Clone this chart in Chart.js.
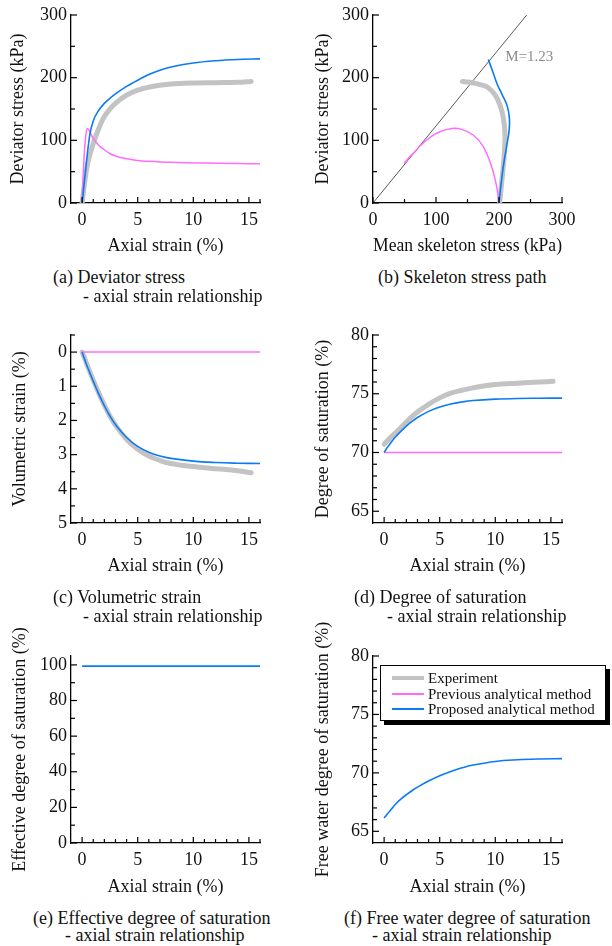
<!DOCTYPE html>
<html>
<head>
<meta charset="utf-8">
<script src="https://cdn.jsdelivr.net/npm/chart.js@4.4.1/dist/chart.umd.min.js"></script>
<style>
  body { margin: 0; background: #fff; }
  #page { position: relative; width: 612px; height: 946px; overflow: hidden; font-family: "Liberation Serif", "Times New Roman", serif; color: #111; }
  canvas { position: absolute; }
  .cap { position: absolute; font-size: 18px; line-height: 20px; white-space: nowrap; }
  #legend { position: absolute; left: 380px; top: 665px; width: 224px; height: 54px; border: 1px solid #000; box-shadow: 4px 4px 0 #000; background: #fff; font-size: 15px; }
  #legend .row { position: absolute; left: 0; height: 16px; line-height: 16px; white-space: nowrap; }
  #legend .swatch { position: absolute; left: 11px; width: 32px; }
  #legend .txt { position: absolute; left: 47px; top: 0; }
</style>
</head>
<body>
<div id="page">
  <canvas id="pa" width="306" height="262" style="left:0;top:0"></canvas>
  <canvas id="pb" width="306" height="262" style="left:306px;top:0"></canvas>
  <canvas id="pc" width="306" height="285" style="left:0;top:300px"></canvas>
  <canvas id="pd" width="306" height="285" style="left:306px;top:300px"></canvas>
  <canvas id="pe" width="306" height="305" style="left:0;top:600px"></canvas>
  <canvas id="pf" width="306" height="305" style="left:306px;top:600px"></canvas>

  <div class="cap" style="left:53px;top:267px">(a) Deviator stress</div>
  <div class="cap" style="left:83px;top:286px">- axial strain relationship</div>
  <div class="cap" style="left:378px;top:267px">(b) Skeleton stress path</div>
  <div class="cap" style="left:53px;top:587px">(c) Volumetric strain</div>
  <div class="cap" style="left:83px;top:606px">- axial strain relationship</div>
  <div class="cap" style="left:354px;top:587px">(d) Degree of saturation</div>
  <div class="cap" style="left:387px;top:606px">- axial strain relationship</div>
  <div class="cap" style="left:33px;top:908px">(e) Effective degree of saturation</div>
  <div class="cap" style="left:65px;top:925px">- axial strain relationship</div>
  <div class="cap" style="left:344px;top:908px">(f) Free water degree of saturation</div>
  <div class="cap" style="left:372px;top:925px">- axial strain relationship</div>

  <div id="legend">
    <div class="row" style="top:4px"><div class="swatch" style="top:6px;height:4px;background:#c3c3c3"></div><span class="txt">Experiment</span></div>
    <div class="row" style="top:20px"><div class="swatch" style="top:7px;height:1.5px;background:#ff6cff"></div><span class="txt">Previous analytical method</span></div>
    <div class="row" style="top:35px"><div class="swatch" style="top:7px;height:1.5px;background:#0b7bf2"></div><span class="txt">Proposed analytical method</span></div>
  </div>
</div>

<script>
// ---------- data ----------
// axial strain (%) of the analytical curves and of the test record
var strainCalc = [0, 0.1, 0.2, 0.3, 0.4, 0.5, 0.7, 1, 1.5, 2, 2.5, 3, 4, 5, 6, 7, 8, 10, 12, 14, 16];
var strainExp  = [0, 0.25, 0.5, 1, 1.5, 2, 2.5, 3, 4, 5, 6, 7, 8, 10, 12, 14, 15.2];

// (a) deviator stress (kPa)
var devExp  = [0, 36, 63, 95, 119, 138, 150, 159, 172, 180, 185, 188, 190, 191.5, 192, 192.5, 194];
var devPrev = [0, 45, 80, 102, 116, 119, 113, 103, 92, 85, 79, 75, 70.5, 68, 66.5, 65.5, 65, 64, 63.5, 63, 62.5];
var devProp = [0, 16, 33, 50, 67, 83, 110, 131, 148, 159, 167, 174, 186, 196, 205, 212, 217, 223.5, 227, 229, 230];

// (b) stress path: mean skeleton stress p (kPa) and deviator stress q (kPa)
var pathExpP  = [201, 203, 206, 208.5, 209.5, 207, 202, 194, 183, 170, 157, 146, 142];
var pathExpQ  = [0, 20, 50, 80, 110, 135, 155, 172, 184, 189, 192, 193.5, 194];
var pathPrevP = [200, 196.3, 188.4, 175, 159, 140.8, 125, 106, 90.5, 74.6, 66.7, 58.7, 49.2];
var pathPrevQ = [0, 26, 58, 90, 108.5, 117.5, 119, 113.7, 104.7, 91, 81.8, 74, 63];
var pathPropP = [200, 201.6, 206.8, 212, 216, 216.5, 213, 205, 197, 191, 183];
var pathPropQ = [0, 15.5, 58, 90, 115, 135, 155, 173, 190, 207, 229];
var cslP = [0, 244];
var cslQ = [0, 300];

// (c) volumetric strain (%)
var volExp  = [0, 0.2, 0.42, 0.82, 1.2, 1.55, 1.87, 2.14, 2.55, 2.84, 3.04, 3.17, 3.26, 3.35, 3.41, 3.47, 3.53];
var volPrev = [0, 0, 0, 0, 0, 0, 0, 0, 0, 0, 0, 0, 0, 0, 0, 0, 0, 0, 0, 0, 0];
var volProp = [0, 0.1, 0.19, 0.28, 0.37, 0.45, 0.61, 0.85, 1.23, 1.57, 1.87, 2.12, 2.5, 2.76, 2.93, 3.04, 3.11, 3.19, 3.23, 3.25, 3.26];

// (d) degree of saturation (%)
var satExp  = [70.7, 70.95, 71.2, 71.65, 72.1, 72.6, 73.05, 73.45, 74.1, 74.65, 75.05, 75.3, 75.5, 75.78, 75.9, 76.0, 76.06];
var satPrev = [70, 70, 70, 70, 70, 70, 70, 70, 70, 70, 70, 70, 70, 70, 70, 70, 70, 70, 70, 70, 70];
var satProp = [70, 70.15, 70.3, 70.44, 70.57, 70.7, 70.95, 71.3, 71.8, 72.25, 72.65, 72.98, 73.5, 73.87, 74.13, 74.3, 74.42, 74.54, 74.6, 74.62, 74.63];

// (e) effective degree of saturation (%)
var effProp = [99.3, 99.3, 99.3, 99.3, 99.3, 99.3, 99.3, 99.3, 99.3, 99.3, 99.3, 99.3, 99.3, 99.3, 99.3, 99.3, 99.3, 99.3, 99.3, 99.3, 99.3];

// (f) free water degree of saturation (%)
var freeProp = [66.14, 66.26, 66.38, 66.5, 66.61, 66.72, 66.95, 67.3, 67.75, 68.13, 68.47, 68.78, 69.3, 69.75, 70.12, 70.43, 70.67, 70.98, 71.12, 71.19, 71.22];

// tick labels
var strainTicks = [0, 5, 10, 15];
var stressTicks = [0, 100, 200, 300];
var volTicks    = [0, 1, 2, 3, 4, 5];
var satTicks    = [65, 70, 75, 80];
var effTicks    = [0, 20, 40, 60, 80, 100];

// ---------- styles ----------
var EXP  = { borderColor: '#c3c3c3', borderWidth: 5, borderCapStyle: 'round', order: 3 };
var PREV = { borderColor: '#ff6cff', borderWidth: 1.5, order: 2 };
var PROP = { borderColor: '#0b7bf2', borderWidth: 1.6, order: 1 };
var SHARP = { cubicInterpolationMode: 'monotone' };

Chart.defaults.font.family = '"Liberation Serif", "Times New Roman", serif';
Chart.defaults.font.size = 18;
Chart.defaults.color = '#111';

function series(xs, ys, style, extra) {
  return Object.assign({
    data: xs.map(function (x, i) { return { x: x, y: ys[i] }; }),
    pointRadius: 0,
    fill: false,
    tension: 0.4
  }, style, extra || {});
}

// inward major/minor tick marks along both axes
var innerTicks = {
  id: 'innerTicks',
  afterDatasetsDraw: function (chart, args, opts) {
    var ctx = chart.ctx, area = chart.chartArea;
    ctx.save();
    ctx.strokeStyle = '#000';
    ctx.lineWidth = 1.2;
    ['x', 'y'].forEach(function (id) {
      var s = chart.scales[id], o = opts[id];
      if (!o) return;
      for (var k = 0; ; k++) {
        var v = o.from + k * o.minor;
        if (v > o.to + 1e-9) break;
        var r = v / o.major;
        var len = Math.abs(r - Math.round(r)) < 1e-6 ? 6 : 4;
        var px = s.getPixelForValue(v);
        ctx.beginPath();
        if (id === 'x') { ctx.moveTo(px, area.bottom); ctx.lineTo(px, area.bottom - len); }
        else { ctx.moveTo(area.left, px); ctx.lineTo(area.left + len, px); }
        ctx.stroke();
      }
    });
    ctx.restore();
  }
};

// text note placed at data coordinates
var noteLabel = {
  id: 'noteLabel',
  afterDatasetsDraw: function (chart, args, opts) {
    if (!opts.text) return;
    var ctx = chart.ctx;
    ctx.save();
    ctx.font = '15px "Liberation Serif", serif';
    ctx.fillStyle = '#8c8c8c';
    ctx.textAlign = 'left';
    ctx.textBaseline = 'middle';
    ctx.fillText(opts.text, chart.scales.x.getPixelForValue(opts.x), chart.scales.y.getPixelForValue(opts.y));
    ctx.restore();
  }
};

// box: canvas [left, top, w, h]; area: plot [left, right, top, bottom] on the page
function makePanel(id, box, area, p) {
  var yw = area[0] - box[0];
  var xh = box[1] + box[3] - area[3];
  var yTitlePad = p.yTitleX - box[0] - 10.8;
  var xTitlePad = box[1] + box[3] - 10.8 - p.xTitleY;

  function axis(a, fit, titleText, titlePad, isX) {
    return {
      type: 'linear',
      min: a.min, max: a.max,
      reverse: !!a.reverse,
      afterBuildTicks: function (s) { s.ticks = a.ticks.map(function (v) { return { value: v }; }); },
      afterFit: function (s) { if (isX) s.height = fit; else s.width = fit; },
      grid: { display: false, drawTicks: false },
      border: { display: true, color: '#000', width: 1.3 },
      ticks: { padding: isX ? 6 : 4, color: '#111', font: { size: 18 }, callback: function (v) { return String(v); } },
      title: {
        display: true, text: titleText, color: '#111', font: { size: 18 },
        padding: isX ? { top: 0, bottom: titlePad } : { top: titlePad, bottom: 0 }
      }
    };
  }

  return new Chart(document.getElementById(id), {
    type: 'line',
    data: { datasets: p.datasets },
    options: {
      responsive: false,
      animation: false,
      devicePixelRatio: 1,
      layout: { padding: { left: 0, top: area[2] - box[1], right: box[0] + box[2] - area[1], bottom: 0 } },
      scales: {
        x: axis(p.x, xh, p.xTitle, xTitlePad, true),
        y: axis(p.y, yw, p.yTitle, yTitlePad, false)
      },
      plugins: {
        legend: { display: false },
        tooltip: { enabled: false },
        innerTicks: { x: p.x.marks, y: p.y.marks },
        noteLabel: p.note || {}
      }
    },
    plugins: [innerTicks, noteLabel]
  });
}

var strainAxis = { min: -1, max: 16, ticks: strainTicks, marks: { from: 0, to: 16, minor: 1, major: 5 } };

// (a) deviator stress - axial strain
makePanel('pa', [0, 0, 306, 262], [71, 260, 15, 203], {
  x: strainAxis,
  y: { min: 0, max: 300, ticks: stressTicks, marks: { from: 0, to: 300, minor: 50, major: 100 } },
  xTitle: 'Axial strain (%)', yTitle: 'Deviator stress (kPa)', yTitleX: 18, xTitleY: 246,
  datasets: [
    series(strainCalc, devProp, PROP, SHARP),
    series(strainCalc, devPrev, PREV, SHARP),
    series(strainExp, devExp, EXP, SHARP)
  ]
});

// (b) skeleton stress path with critical state line M=1.23
makePanel('pb', [306, 0, 306, 262], [373, 562, 15, 203], {
  x: { min: 0, max: 300, ticks: stressTicks, marks: { from: 0, to: 300, minor: 50, major: 100 } },
  y: { min: 0, max: 300, ticks: stressTicks, marks: { from: 0, to: 300, minor: 50, major: 100 } },
  xTitle: 'Mean skeleton stress (kPa)', yTitle: 'Deviator stress (kPa)', yTitleX: 323, xTitleY: 246,
  note: { text: 'M=1.23', x: 210, y: 233 },
  datasets: [
    series(pathPropP, pathPropQ, PROP),
    series(pathPrevP, pathPrevQ, PREV),
    series(pathExpP, pathExpQ, EXP),
    series(cslP, cslQ, { borderColor: '#5a5a5a', borderWidth: 1, order: 4 }, { tension: 0 })
  ]
});

// (c) volumetric strain - axial strain
makePanel('pc', [0, 300, 306, 285], [71, 260, 335, 523], {
  x: strainAxis,
  y: { min: -0.5, max: 5, reverse: true, ticks: volTicks, marks: { from: -0.5, to: 5, minor: 0.5, major: 1 } },
  xTitle: 'Axial strain (%)', yTitle: 'Volumetric strain (%)', yTitleX: 20, xTitleY: 566,
  datasets: [
    series(strainCalc, volProp, PROP),
    series(strainCalc, volPrev, PREV),
    series(strainExp, volExp, EXP)
  ]
});

// (d) degree of saturation - axial strain
makePanel('pd', [306, 300, 306, 285], [373, 562, 335, 523], {
  x: strainAxis,
  y: { min: 64, max: 80, ticks: satTicks, marks: { from: 65, to: 80, minor: 1, major: 5 } },
  xTitle: 'Axial strain (%)', yTitle: 'Degree of saturation (%)', yTitleX: 323, xTitleY: 566,
  datasets: [
    series(strainCalc, satProp, PROP),
    series(strainCalc, satPrev, PREV),
    series(strainExp, satExp, EXP)
  ]
});

// (e) effective degree of saturation - axial strain
makePanel('pe', [0, 600, 306, 305], [71, 260, 656, 843], {
  x: strainAxis,
  y: { min: 0, max: 105, ticks: effTicks, marks: { from: 0, to: 100, minor: 10, major: 20 } },
  xTitle: 'Axial strain (%)', yTitle: 'Effective degree of saturation (%)', yTitleX: 20, xTitleY: 887,
  datasets: [
    series(strainCalc, effProp, PROP)
  ]
});

// (f) free water degree of saturation - axial strain
makePanel('pf', [306, 600, 306, 305], [373, 562, 656, 843], {
  x: strainAxis,
  y: { min: 64, max: 80, ticks: satTicks, marks: { from: 65, to: 80, minor: 1, major: 5 } },
  xTitle: 'Axial strain (%)', yTitle: 'Free water degree of saturation (%)', yTitleX: 323, xTitleY: 887,
  datasets: [
    series(strainCalc, freeProp, PROP)
  ]
});
</script>
</body>
</html>
